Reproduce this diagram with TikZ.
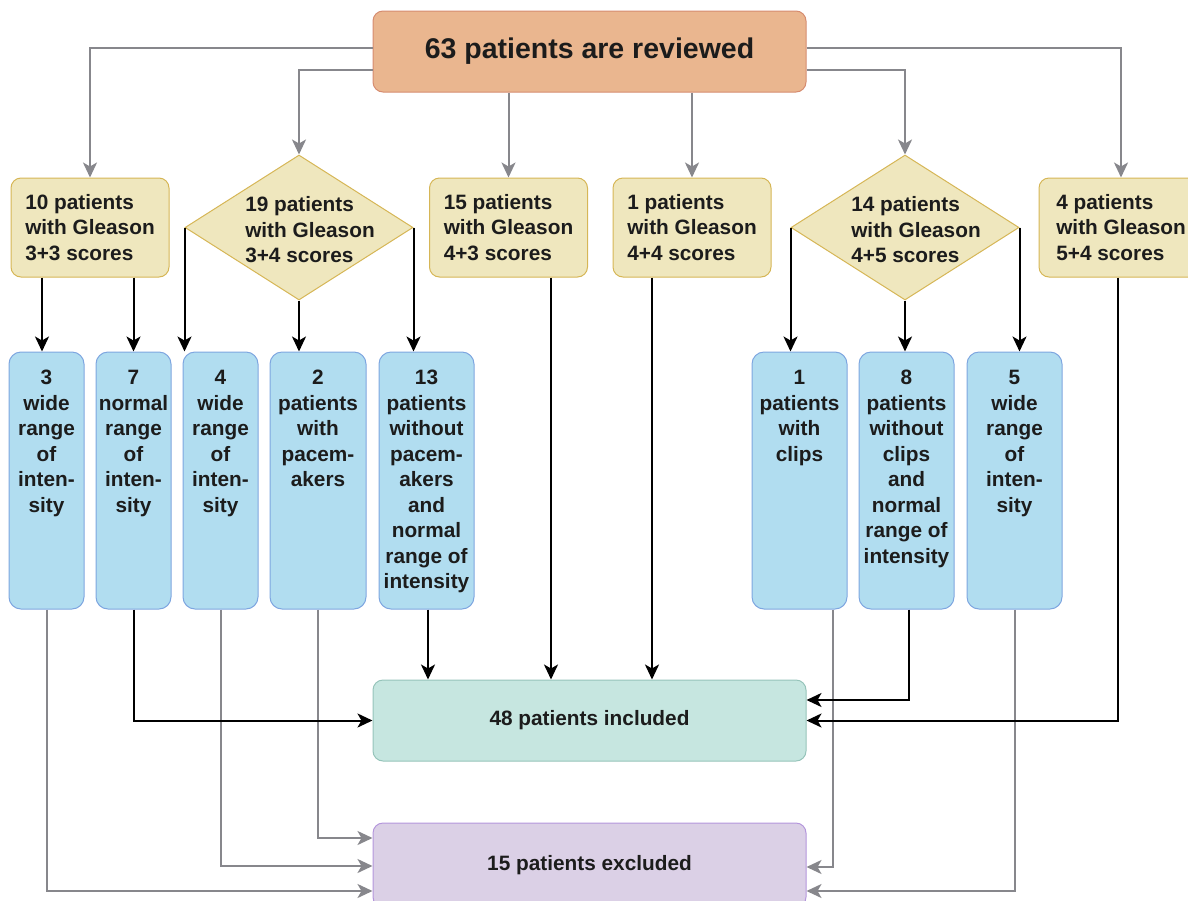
\documentclass[tikz,border=0pt]{standalone}
\usepackage{fontspec}
\setmainfont{Liberation Sans}
\usetikzlibrary{arrows.meta,shapes.geometric}
\definecolor{peachfill}{RGB}{234,182,143}
\definecolor{peachdraw}{RGB}{214,140,112}
\definecolor{yfill}{RGB}{239,231,190}
\definecolor{ydraw}{RGB}{214,182,86}
\definecolor{bfill}{RGB}{177,221,240}
\definecolor{bdraw}{RGB}{126,166,224}
\definecolor{gfill}{RGB}{198,230,224}
\definecolor{gdraw}{RGB}{150,196,186}
\definecolor{pfill}{RGB}{219,208,230}
\definecolor{pdraw}{RGB}{180,150,220}
\definecolor{txt}{RGB}{28,28,28}
\definecolor{garrow}{RGB}{135,135,140}
\begin{document}
\begin{tikzpicture}[x=1pt,y=-1pt,
  fnt/.style={font=\fontsize{20.8}{25.5}\selectfont\bfseries, text=txt},
  topbox/.style={draw=peachdraw, fill=peachfill, rounded corners=10pt, line width=1pt,
    minimum width=433pt, minimum height=81pt, inner sep=0pt,
    font=\fontsize{28.5}{32}\selectfont\bfseries, text=txt},
  ybox/.style={fnt, draw=ydraw, fill=yfill, rounded corners=10pt, line width=1pt,
    minimum width=158pt, minimum height=99pt, inner sep=0pt, align=left},
  dia/.style={diamond, draw=ydraw, fill=yfill, line width=1pt,
    minimum width=228pt, minimum height=145pt, inner sep=0pt},
  ytext/.style={fnt, align=left, inner sep=0pt},
  bbox/.style={draw=bdraw, fill=bfill, rounded corners=12pt, line width=1pt,
    minimum height=257pt, inner sep=0pt},
  btext/.style={fnt, align=center, inner sep=0pt, anchor=north},
  incbox/.style={fnt, draw=gdraw, fill=gfill, rounded corners=10pt, line width=1pt,
    minimum width=433pt, minimum height=81pt, inner sep=0pt},
  excbox/.style={fnt, draw=pdraw, fill=pfill, rounded corners=10pt, line width=1pt,
    minimum width=433pt, minimum height=84pt, inner sep=0pt},
  garr/.style={draw=garrow, line width=2pt, -{Stealth[length=15pt,width=14pt,inset=4pt]}},
  barr/.style={draw=black, line width=2pt, -{Stealth[length=15pt,width=14pt,inset=4pt]}}
]
\useasboundingbox (0,0) rectangle (1188,900);

% top
\node[topbox] (T) at (589.5,51.5) {63 patients are reviewed};

% gleason row
\node[ybox] (A) at (90,227.5) {10 patients\\with Gleason\\3+3 scores};
\node[dia] (B) at (299,227.5) {};
\node[ytext] (Bt) at (310,230) {19 patients\\with Gleason\\3+4 scores};
\node[ybox] (C) at (508.5,227.5) {15 patients\\with Gleason\\4+3 scores};
\node[ybox] (D) at (692,227.5) {1 patients\\with Gleason\\4+4 scores};
\node[dia] (E) at (905,227.5) {};
\node[ytext] (Et) at (916,230) {14 patients\\with Gleason\\4+5 scores};
\node[ybox, minimum width=164pt] (F) at (1121,227.5) {4 patients\\with Gleason\\5+4 scores};

% blue row
\node[bbox, minimum width=75pt] (b1) at (46.5,480.5) {};
\node[bbox, minimum width=75pt] (b2) at (133.5,480.5) {};
\node[bbox, minimum width=75pt] (b3) at (220.5,480.5) {};
\node[bbox, minimum width=96pt] (b4) at (318,480.5) {};
\node[bbox, minimum width=95pt] (b5) at (426.5,480.5) {};
\node[bbox, minimum width=95pt] (b6) at (799.5,480.5) {};
\node[bbox, minimum width=95pt] (b7) at (906.5,480.5) {};
\node[bbox, minimum width=95pt] (b8) at (1014.5,480.5) {};
\node[btext] (b1t) at (46.5,370) {3\\wide\\range\\of\\inten-\\sity};
\node[btext] (b2t) at (133.5,370) {7\\normal\\range\\of\\inten-\\sity};
\node[btext] (b3t) at (220.5,370) {4\\wide\\range\\of\\inten-\\sity};
\node[btext] (b4t) at (318,370) {2\\patients\\with\\pacem-\\akers};
\node[btext] (b5t) at (426.5,370) {13\\patients\\without\\pacem-\\akers\\and\\normal\\range of\\intensity};
\node[btext] (b6t) at (799.5,370) {1\\patients\\with\\clips};
\node[btext] (b7t) at (906.5,370) {8\\patients\\without\\clips\\and\\normal\\range of\\intensity};
\node[btext] (b8t) at (1014.5,370) {5\\wide\\range\\of\\inten-\\sity};

% bottom
\node[incbox] (inc) at (589.5,720.5) {48 patients included};
\node[excbox] (exc) at (589.5,865) {15 patients excluded};

% gray arrows from top
\draw[garr] (T.west |- 0,48) -| (A.north);
\draw[garr] (T.west |- 0,70) -| (B.north);
\draw[garr] (T.south -| C.north) -- (C.north);
\draw[garr] (T.south -| D.north) -- (D.north);
\draw[garr] (T.east |- 0,70) -| (E.north);
\draw[garr] (T.east |- 0,48) -| (F.north);

% gray arrows to excluded
\draw[garr] (b4.south) |- (exc.west |- 0,838);
\draw[garr] (b3.south) |- (exc.west |- 0,866);
\draw[garr] (b1.south) |- (exc.west |- 0,891);
\draw[garr] (b6.south -| 833,0) |- (exc.east |- 0,867);
\draw[garr] (b8.south) |- (exc.east |- 0,891);

% black arrows to blue row
\draw[barr] (A.south -| 42,0) -- (b1.north -| 42,0);
\draw[barr] (A.south -| b2.north) -- (b2.north);
\draw[barr] (B.west) -- (B.west |- b3.north);
\draw[barr] (B.south) -- (B.south |- b4.north);
\draw[barr] (B.east) -- (B.east |- b5.north);
\draw[barr] (E.west) -- (E.west |- b6.north);
\draw[barr] (E.south) -- (E.south |- b7.north);
\draw[barr] (E.east) -- (E.east |- b8.north);

% black arrows to included
\draw[barr] (b5.south -| 428,0) -- (inc.north -| 428,0);
\draw[barr] (C.south -| 551,0) -- (inc.north -| 551,0);
\draw[barr] (D.south -| 652,0) -- (inc.north -| 652,0);
\draw[barr] (b2.south) |- (inc.west);
\draw[barr] (b7.south -| 909,0) |- (inc.east |- 0,700);
\draw[barr] (F.south -| 1118,0) |- (inc.east);
\end{tikzpicture}
\end{document}
